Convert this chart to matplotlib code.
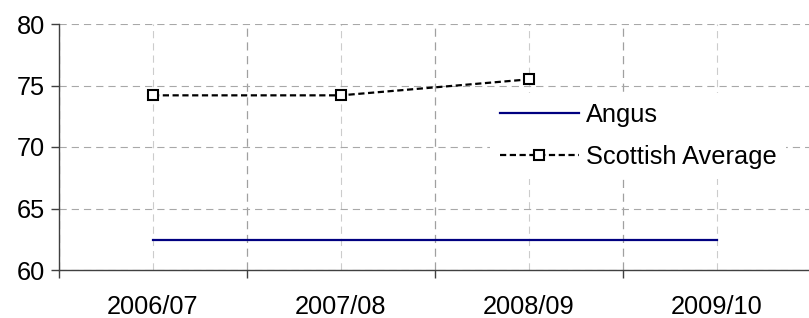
import numpy as np
import matplotlib
matplotlib.use('Agg')
import matplotlib.pyplot as plt

plt.rcParams['font.family'] = ['Liberation Sans', 'DejaVu Sans']

# data
years = ['2006/07', '2007/08', '2008/09', '2009/10']
angus = [62.4, 62.4, 62.4, 62.4]
scottish_avg = [74.2, 74.2, 75.5]

FS = 18.3

fig = plt.figure(figsize=(8.09, 3.18), dpi=100)
ax = fig.add_axes([59/809, 48/318, 752/809, 246/318])

x = np.arange(len(years))
ax.plot(x, angus, color='#000080', lw=1.6, label='Angus', zorder=3)
ax.plot(x[:len(scottish_avg)], scottish_avg, color='black', lw=1.6,
        linestyle=(0, (2.8, 1.6)), marker='s', markersize=6.5,
        markerfacecolor='white', markeredgecolor='black', markeredgewidth=1.5,
        label='Scottish Average', zorder=4)

ax.set_xlim(-0.5, len(years) - 0.5)
ax.set_ylim(60, 80)
ax.set_yticks([60, 65, 70, 75, 80])

# category boundaries carry the tick marks, centres carry the labels
ax.set_xticks(np.arange(-0.5, len(years), 1.0))
ax.set_xticklabels([])
ax.set_xticks(x, minor=True)
ax.set_xticklabels(years, minor=True)
ax.tick_params(axis='x', which='major', direction='out', length=6, width=1, color='#404040')
ax.tick_params(axis='x', which='minor', length=0, pad=18, labelsize=FS)
ax.tick_params(axis='y', direction='out', length=6, width=1, color='#404040', labelsize=FS, pad=4)

ax.grid(axis='y', which='major', color='#a8a8a8', lw=0.8, linestyle=(0, (6.5, 4.5)))
ax.grid(axis='x', which='major', color='#a0a0a0', lw=0.9, linestyle=(0, (6.5, 4.5)))
ax.grid(axis='x', which='minor', color='#cccccc', lw=0.8, linestyle=(0, (6.5, 4.5)))
ax.set_axisbelow(True)

for s in ['top', 'right']:
    ax.spines[s].set_visible(False)
for s in ['left', 'bottom']:
    ax.spines[s].set_color('#404040')
    ax.spines[s].set_linewidth(1)

leg = ax.legend(loc='center left', bbox_to_anchor=((489.7 - 59) / 752, (270 - 136) / 246),
                borderaxespad=0, frameon=True, fancybox=False, facecolor='white',
                edgecolor='none', framealpha=1, fontsize=FS, handlelength=3.1,
                handletextpad=0.27, labelspacing=0.68, numpoints=1)

fig.savefig('out.png', dpi=100)
